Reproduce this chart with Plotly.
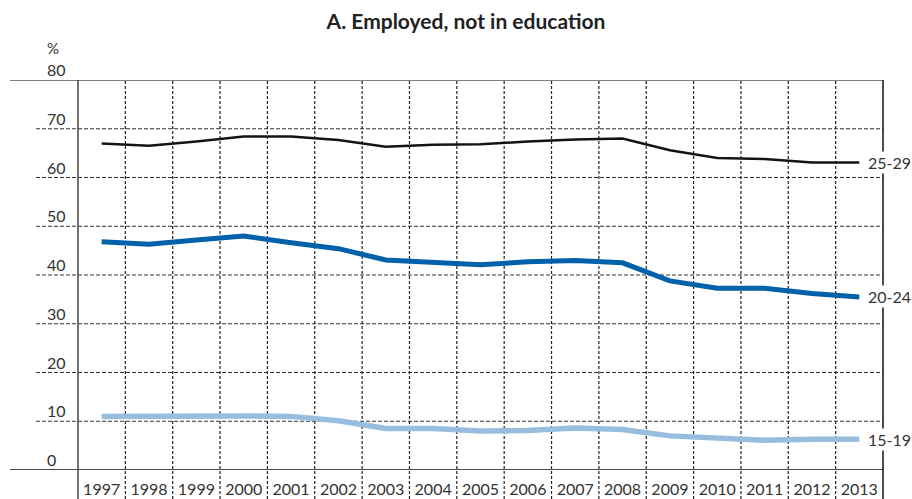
import plotly.graph_objects as go

years = list(range(1997, 2014))

# share employed, not in education (%)
age_25_29 = [67.0, 66.5, 67.4, 68.4, 68.4, 67.7, 66.3, 66.7, 66.8, 67.4, 67.8, 68.0, 65.6, 64.0, 63.8, 63.1, 63.1]
age_20_24 = [46.8, 46.3, 47.2, 48.0, 46.6, 45.4, 43.1, 42.5, 42.1, 42.7, 43.0, 42.5, 38.8, 37.3, 37.3, 36.2, 35.5]
age_15_19 = [11.0, 11.1, 11.1, 11.1, 11.0, 10.1, 8.5, 8.5, 8.0, 8.1, 8.6, 8.3, 7.0, 6.6, 6.1, 6.3, 6.3]

y_ticks = [0, 10, 20, 30, 40, 50, 60, 70, 80]

series = [
    ("25-29", age_25_29, "#141414", 2.5),
    ("20-24", age_20_24, "#0061AB", 5),
    ("15-19", age_15_19, "#97BEDF", 5.5),
]

FONT = "Lato"
W, H = 912, 499
L, R, T, B = 78, 29, 80, 29
plot_w = W - L - R
plot_h = H - T - B

fig = go.Figure()
for name, vals, col, w in series:
    fig.add_trace(go.Scatter(x=years, y=vals, mode="lines", name=name,
                             line=dict(color=col, width=w), showlegend=False))

shapes = []
# horizontal dashed grid, extending left of the plot area
for v in y_ticks[1:-1]:
    shapes.append(dict(type="line", xref="paper", yref="y", x0=(36 - L) / plot_w, x1=1,
                       y0=v, y1=v, line=dict(color="#333", width=1, dash="4px,2px"), layer="below"))
# solid lines at top and bottom
for v, col in [(y_ticks[0], "#111"), (y_ticks[-1], "#555")]:
    shapes.append(dict(type="line", xref="paper", yref="y", x0=(10 - L) / plot_w, x1=1,
                       y0=v, y1=v, line=dict(color=col, width=1.5)))
# vertical dotted grid between years, running down through the labels
for yr in years[:-1]:
    shapes.append(dict(type="line", xref="x", yref="paper", x0=yr + 0.5, x1=yr + 0.5,
                       y0=-B / plot_h, y1=1, line=dict(color="#222", width=1.2, dash="3px,2px"),
                       layer="below"))
# left axis and right border
for xp, col in [(0, "#444"), (1, "#111")]:
    shapes.append(dict(type="line", xref="paper", yref="paper", x0=xp, x1=xp,
                       y0=-B / plot_h, y1=1, line=dict(color=col, width=1.5)))

annotations = []
for v in y_ticks:
    annotations.append(dict(x=(45 - L) / plot_w, xref="paper", y=v, yref="y", text=str(v),
                            xanchor="left", yanchor="bottom", yshift=-1, showarrow=False,
                            font=dict(family=FONT, size=16, color="#333")))
annotations.append(dict(x=(45 - L) / plot_w, xref="paper", y=(H - 48 - B) / plot_h, yref="paper",
                        text="%", xanchor="left", yanchor="middle", showarrow=False,
                        font=dict(family=FONT, size=15, color="#333")))
for name, vals, col, w in series:
    annotations.append(dict(x=years[-1], y=vals[-1], xref="x", yref="y", text=name,
                            xanchor="left", yanchor="middle", xshift=7, showarrow=False,
                            font=dict(family=FONT, size=16, color="#333"), bgcolor="white"))

fig.update_layout(
    width=W, height=H,
    margin=dict(l=L, r=R, t=T, b=B),
    paper_bgcolor="white", plot_bgcolor="white",
    title=dict(text="<b>A. Employed, not in education</b>", x=466 / W, xanchor="center",
               y=1 - 22 / H, yanchor="middle", font=dict(family=FONT, size=21, color="#222")),
    xaxis=dict(range=[years[0] - 0.5, years[-1] + 0.5], tickmode="array", tickvals=years,
               ticktext=[str(y) for y in years], showgrid=False, zeroline=False, showline=False,
               ticks="", ticklabelstandoff=8, automargin=False,
               tickfont=dict(family=FONT, size=16, color="#333")),
    yaxis=dict(range=[y_ticks[0], y_ticks[-1]], showgrid=False, zeroline=False, showline=False,
               showticklabels=False),
    shapes=shapes,
    annotations=annotations,
)

# drop the page's default body margin so the figure sits at the window's corner
fig.write_html("out.html", config={"displayModeBar": False},
               post_script="document.body.style.margin='0';")
